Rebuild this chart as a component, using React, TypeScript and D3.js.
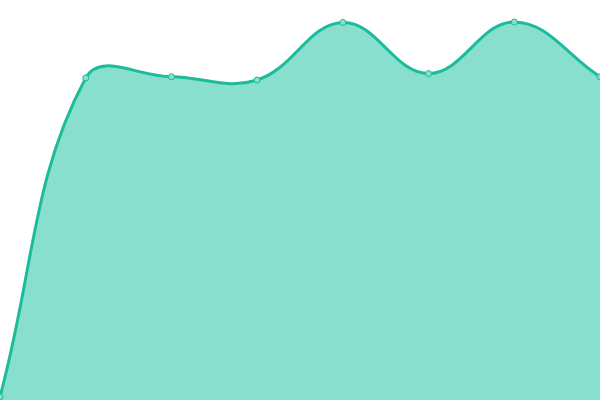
import React, { useEffect, useRef } from "react";
import * as d3 from "d3";

// one series, eight points, axes hidden
const labels = ["1", "2", "3", "4", "5", "6", "7", "8"];
const values = [0.8, 80.5, 80.8, 80.0, 94.4, 81.6, 94.5, 80.8];

const width = 600;
const height = 400;
const lineColor = "#1abc9c";
const fillColor = "#89dfce";

// spline with tension 0.4, control points weighted by segment length
function splineCurve(context: any) {
  let pts: [number, number][] = [];
  let line = NaN;
  const tension = 0.4;
  return {
    areaStart() { line = 0; },
    areaEnd() { line = NaN; },
    lineStart() { pts = []; },
    point(x: number, y: number) { pts.push([+x, +y]); },
    lineEnd() {
      const n = pts.length;
      if (n) {
        if (line) context.lineTo(pts[0][0], pts[0][1]);
        else context.moveTo(pts[0][0], pts[0][1]);
        const prevCp: [number, number][] = [];
        const nextCp: [number, number][] = [];
        for (let i = 0; i < n; i++) {
          const p0 = pts[i - 1] || pts[i];
          const p1 = pts[i];
          const p2 = pts[i + 1] || pts[i];
          const d01 = Math.hypot(p1[0] - p0[0], p1[1] - p0[1]);
          const d12 = Math.hypot(p2[0] - p1[0], p2[1] - p1[1]);
          let s01 = d01 / (d01 + d12);
          let s12 = d12 / (d01 + d12);
          if (isNaN(s01)) s01 = 0;
          if (isNaN(s12)) s12 = 0;
          const fa = tension * s01;
          const fb = tension * s12;
          prevCp.push([p1[0] - fa * (p2[0] - p0[0]), p1[1] - fa * (p2[1] - p0[1])]);
          nextCp.push([p1[0] + fb * (p2[0] - p0[0]), p1[1] + fb * (p2[1] - p0[1])]);
        }
        for (let i = 1; i < n; i++) {
          context.bezierCurveTo(
            nextCp[i - 1][0], nextCp[i - 1][1],
            prevCp[i][0], prevCp[i][1],
            pts[i][0], pts[i][1]
          );
        }
      }
      if (line || (line !== 0 && n === 1)) context.closePath();
      line = 1 - line;
    },
  };
}

export default function App() {
  const svgRef = useRef<SVGSVGElement>(null);

  useEffect(() => {
    if (!svgRef.current) return;
    const svg = d3.select(svgRef.current);
    svg.selectAll("*").remove();

    const x = d3.scalePoint().domain(labels).range([0, width]);
    const y = d3.scaleLinear().domain([0, 100]).range([height, 0]);

    const data = labels.map((l, i) => ({ label: l, value: values[i] }));

    const area = d3.area<{ label: string; value: number }>()
      .x(d => x(d.label) as number)
      .y0(height)
      .y1(d => y(d.value))
      .curve(splineCurve as any);

    const line = d3.line<{ label: string; value: number }>()
      .x(d => x(d.label) as number)
      .y(d => y(d.value))
      .curve(splineCurve as any);

    svg.append("path")
      .datum(data)
      .attr("fill", fillColor)
      .attr("d", area);

    svg.append("path")
      .datum(data)
      .attr("fill", "none")
      .attr("stroke", lineColor)
      .attr("stroke-width", 3)
      .attr("d", line);

    svg.selectAll("circle")
      .data(data)
      .join("circle")
      .attr("cx", d => x(d.label) as number)
      .attr("cy", d => y(d.value))
      .attr("r", 3)
      .attr("fill", fillColor)
      .attr("stroke", lineColor)
      .attr("stroke-width", 1);
  }, []);

  return (
    <svg
      ref={svgRef}
      width={width}
      height={height}
      style={{ position: "absolute", top: 0, left: 0, background: "#fff" }}
    ></svg>
  );
}
